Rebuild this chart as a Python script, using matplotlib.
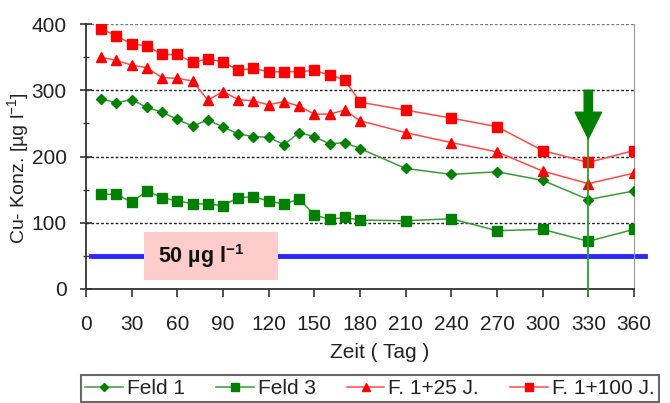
import matplotlib
matplotlib.use("Agg")
import matplotlib.pyplot as plt
from matplotlib.patches import Rectangle
from matplotlib.ticker import MultipleLocator

plt.rcParams['font.family'] = ['Liberation Sans', 'DejaVu Sans']

days = [10, 20, 30, 40, 50, 60, 70, 80, 90, 100, 110, 120, 130, 140, 150, 160, 170, 180,
        210, 240, 270, 300, 330, 360]
feld1 = [287, 281, 286, 274, 267, 256, 246, 255, 245, 234, 230, 229, 218, 236, 230, 219, 221, 212,
         182, 173, 177, 164, 135, 148]
feld3 = [143, 143, 131, 148, 138, 133, 129, 128, 126, 138, 139, 133, 128, 136, 112, 105, 108, 104,
         103, 106, 88, 90, 72, 90]
f1_25 = [350, 345, 338, 334, 319, 318, 314, 285, 298, 286, 284, 278, 283, 276, 264, 264, 270, 254,
         236, 221, 207, 178, 159, 175]
f1_100 = [393, 382, 370, 367, 354, 354, 342, 347, 343, 330, 333, 328, 328, 328, 330, 323, 316, 282,
          270, 258, 245, 209, 191, 209]
labels = ["Feld 1", "Feld 3", "F. 1+25 J.", "F. 1+100 J."]
limit_value = 50
marked_day = 330
xticks = list(range(0, 361, 30))
yticks = [0, 100, 200, 300, 400]

txt = '#222222'
fig = plt.figure(figsize=(6.7, 4.03), dpi=100)
ax = fig.add_axes([86/670, 1-289/403, 548/670, 265/403])
ax.set_xlim(0, 360)
ax.set_ylim(0, 400)

for y in yticks[1:4]:
    ax.axhline(y, color='#222222', lw=1.0, ls=(0, (2, 1.5)), zorder=1)
ax.axhline(400, color='#777777', lw=1.0, ls=(0, (2, 1.5)), zorder=1)

# limit line
ax.plot([3, 367], [limit_value, limit_value], color='#2828ff', lw=3.5, clip_on=False, zorder=2)
ax.add_patch(Rectangle((38, 13.6), 88, 72.8, facecolor='#ffcccc', edgecolor='none', zorder=3))
ax.text(47, 50, r'50 µg l$^{\mathregular{-1}}$', fontsize=15.5, fontweight='bold', color='#111111',
        va='center', ha='left', zorder=4)

gl = '#3a9a3a'
gm = '#008000'
rl = '#ff4a4a'
rm = '#ff0000'
ax.plot(days, feld1, color=gl, lw=1.1, marker='D', ms=5, mfc=gm, mec=gm, label=labels[0], zorder=5)
ax.plot(days, feld3, color=gl, lw=1.1, marker='s', ms=7, mfc=gm, mec=gm, label=labels[1], zorder=5)
ax.plot(days, f1_25, color=rl, lw=1.1, marker='^', ms=7, mfc=rm, mec=rm, label=labels[2], zorder=5)
ax.plot(days, f1_100, color=rl, lw=1.1, marker='s', ms=7, mfc=rm, mec=rm, label=labels[3], zorder=5)

# vertical marker line + arrow
ax.plot([marked_day, marked_day], [-7, 228], color='#2e9a2e', lw=1.3, clip_on=False, zorder=6)
ax.annotate('', xy=(marked_day, 227), xytext=(marked_day, 300),
            arrowprops=dict(arrowstyle='simple,head_width=1.9,head_length=1.9,tail_width=0.6',
                            color='#008000', shrinkA=0, shrinkB=0, mutation_scale=10), zorder=7)

ax.spines['top'].set_visible(False)
ax.spines['right'].set_color('#999999')
ax.spines['left'].set_color('#333333')
ax.spines['bottom'].set_color('#333333')
ax.spines['left'].set_linewidth(1.3)
ax.spines['bottom'].set_linewidth(1.3)

ax.set_xticks(xticks)
ax.set_yticks(yticks)
ax.yaxis.set_minor_locator(MultipleLocator(50))
ax.tick_params(axis='x', direction='out', length=6, width=1.2, color='#333333',
               labelsize=15, labelcolor=txt, pad=13)
ax.tick_params(axis='y', which='major', direction='inout', length=8, width=1.2, color='#333333',
               labelsize=15, labelcolor=txt, pad=10)
ax.tick_params(axis='y', which='minor', direction='inout', length=5, width=1.0, color='#333333')

ax.set_xlabel('Zeit ( Tag )', fontsize=15, color=txt)
ax.xaxis.set_label_coords(0.536, -0.204)
ax.set_ylabel('Cu- Konz. [µg l$^{\\mathregular{-1}}$]', fontsize=14, color=txt)
ax.yaxis.set_label_coords(-0.0985, 0.457)

h, l = ax.get_legend_handles_labels()
leg = fig.legend(h, l, loc='upper left', bbox_to_anchor=(81/670, 1-375/403, 578/670, 0),
                 mode='expand', ncol=4, fontsize=15, frameon=True, fancybox=False,
                 handlelength=1.8, handletextpad=0.2, borderpad=0.2, borderaxespad=0,
                 markerscale=0.8)
leg.get_frame().set_edgecolor('#444444')
leg.get_frame().set_linewidth(1.5)
for t in leg.get_texts():
    t.set_color(txt)

fig.savefig('out.png', dpi=100)
